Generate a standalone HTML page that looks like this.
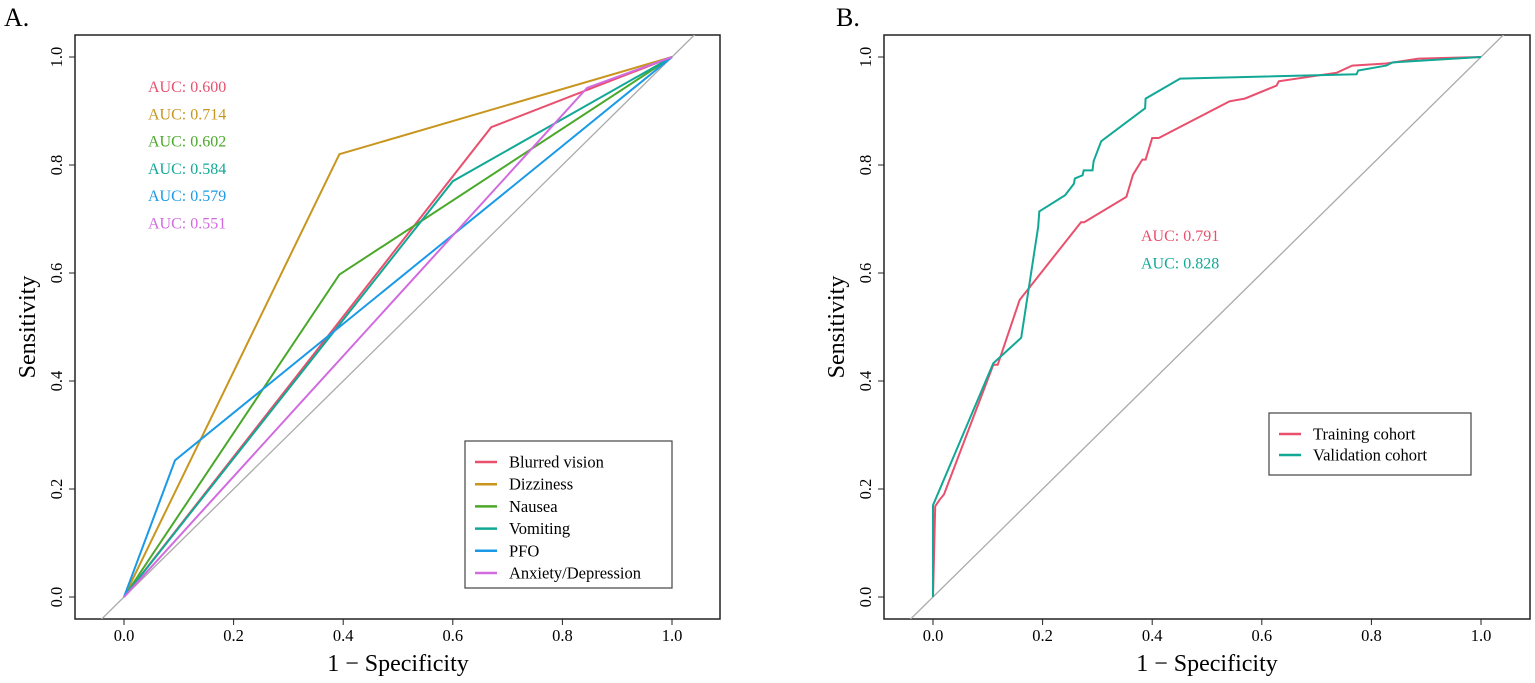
<!DOCTYPE html>
<html><head><meta charset="utf-8"><style>
html,body{margin:0;padding:0;background:#fff}
svg{display:block;font-family:"Liberation Serif",serif}
</style></head><body>
<svg id="svg" width="1535" height="683" viewBox="0 0 1535 683" xmlns="http://www.w3.org/2000/svg">
<text x="4" y="26" font-size="26">A.</text>
<text x="836" y="26" font-size="26">B.</text>
<g id="pa"></g>
<g id="pb"></g>
</svg>
<script>
const ticks = [0, 0.2, 0.4, 0.6, 0.8, 1.0];
const tickLabels = ["0.0", "0.2", "0.4", "0.6", "0.8", "1.0"];
const namesA = ["Blurred vision", "Dizziness", "Nausea", "Vomiting", "PFO", "Anxiety/Depression"];
const aucA = ["AUC: 0.600", "AUC: 0.714", "AUC: 0.602", "AUC: 0.584", "AUC: 0.579", "AUC: 0.551"];
const colorsA = ["#e8506e", "#c8961e", "#4aa82a", "#12a896", "#1a9ae6", "#d26ae0"];
const blurredX = [0, 0.67, 1], blurredY = [0, 0.87, 1];
const dizzX = [0, 0.393, 1], dizzY = [0, 0.82, 1];
const nauseaX = [0, 0.393, 1], nauseaY = [0, 0.597, 1];
const vomitX = [0, 0.6, 1], vomitY = [0, 0.77, 1];
const pfoX = [0, 0.093, 1], pfoY = [0, 0.253, 1];
const anxX = [0, 0.845, 1], anxY = [0, 0.943, 1];
const namesB = ["Training cohort", "Validation cohort"];
const aucB = ["AUC: 0.791", "AUC: 0.828"];
const colorsB = ["#e8506e", "#12a896"];
const trainX = [0,0.004,0.012,0.02,0.11,0.118,0.158,0.27,0.276,0.353,0.365,0.382,0.388,0.4,0.412,0.541,0.569,0.627,0.631,0.737,0.765,0.827,0.886,1];
const trainY = [0,0.168,0.18,0.19,0.43,0.43,0.55,0.694,0.694,0.741,0.782,0.81,0.81,0.85,0.85,0.918,0.923,0.947,0.955,0.971,0.984,0.988,0.997,1];
const validX = [0,0,0.11,0.161,0.192,0.194,0.241,0.257,0.259,0.273,0.275,0.291,0.293,0.307,0.387,0.388,0.451,0.773,0.776,0.827,0.839,1];
const validY = [0,0.17,0.433,0.48,0.686,0.714,0.744,0.765,0.775,0.781,0.79,0.79,0.807,0.844,0.905,0.923,0.96,0.968,0.975,0.984,0.99,1];

const NS = "http://www.w3.org/2000/svg";
function mk(p, tag, attrs) { const e = document.createElementNS(NS, tag); for (const k in attrs) e.setAttribute(k, attrs[k]); p.appendChild(e); return e; }

function panel(g, x0, x1, boxL, boxR, id) {
  const y0 = 597, y1 = 57, boxT = 35, boxB = 619;
  const sx = v => x0 + v * (x1 - x0), sy = v => y0 + v * (y1 - y0);
  const clip = mk(g, "clipPath", {id: "clip" + id});
  mk(clip, "rect", {x: boxL, y: boxT, width: boxR - boxL, height: boxB - boxT});
  const box = mk(g, "rect", {x: boxL, y: boxT, width: boxR - boxL, height: boxB - boxT, fill: "none", stroke: "#222", "stroke-width": 1.5});
  
  
  const diag = mk(g, "line", {x1: sx(-0.1), y1: sy(-0.1), x2: sx(1.1), y2: sy(1.1), stroke: "#aaa", "stroke-width": 1.3, "clip-path": "url(#clip" + id + ")"});
  
  
  ticks.forEach((t, i) => {
    const xt = mk(g, "line", {x1: sx(t), x2: sx(t), y1: boxB, y2: boxB + 6, stroke: "#222"});
    
    
    const xl = mk(g, "text", {x: sx(t), y: 641, "font-size": 16.5, "text-anchor": "middle"});
    xl.textContent = tickLabels[i];
    
    
    const yt = mk(g, "line", {x1: boxL - 6, x2: boxL, y1: sy(t), y2: sy(t), stroke: "#222"});
    
    
    const yl = mk(g, "text", {x: 0, y: 0, "font-size": 16.5, "text-anchor": "middle", transform: `translate(${boxL - 13},${sy(t)}) rotate(-90)`});
    yl.textContent = tickLabels[i];
    
    
  });
  const xt = mk(g, "text", {x: sx(0.5), y: 671, "font-size": 24, "text-anchor": "middle"});
  xt.textContent = "1 \u2212 Specificity";
  
  
  const yt = mk(g, "text", {x: 0, y: 0, "font-size": 24, "text-anchor": "middle", transform: `translate(${boxL - 40},${sy(0.5)}) rotate(-90)`});
  yt.textContent = "Sensitivity";
  
  
  return {sx, sy};
}
function curve(g, s, xs, ys, color, name) {
  const d = xs.map((x, i) => (i ? "L" : "M") + s.sx(x).toFixed(1) + "," + s.sy(ys[i]).toFixed(1)).join("");
  const p = mk(g, "path", {d, fill: "none", stroke: color, "stroke-width": 2});
  
  
}
function legend(g, x, y, w, h, names, colors, dy, fs) {
  const lg = mk(g, "g", {});
  
  
  mk(lg, "rect", {x, y, width: w, height: h, fill: "#fff", stroke: "#444", "stroke-width": 1.2});
  names.forEach((n, i) => {
    const cy = y + 21 + i * dy;
    const e = mk(lg, "g", {});
    
    
    mk(e, "line", {x1: x + 10, x2: x + 32, y1: cy, y2: cy, stroke: colors[i], "stroke-width": 2.5});
    const t = mk(e, "text", {x: x + 44, y: cy + 5.5, "font-size": fs});
    t.textContent = n;
  });
}
const ga = document.getElementById("pa");
const sa = panel(ga, 124, 672, 75, 720, "a");
const seriesA = [[blurredX, blurredY], [dizzX, dizzY], [nauseaX, nauseaY], [vomitX, vomitY], [pfoX, pfoY], [anxX, anxY]];
seriesA.forEach((s, i) => curve(ga, sa, s[0], s[1], colorsA[i], "roc-" + namesA[i].toLowerCase().replace(/[^a-z]+/g, "-")));
aucA.forEach((a, i) => {
  const t = mk(ga, "text", {x: 148, y: 92 + i * 27.3, "font-size": 16, fill: colorsA[i]});
  t.textContent = a;
  
  
});
legend(ga, 465, 441, 207, 147, namesA, colorsA, 22.2, 16.5);

const gb = document.getElementById("pb");
const sb = panel(gb, 933, 1481, 884, 1530, "b");
curve(gb, sb, trainX, trainY, colorsB[0], "roc-training-cohort");
curve(gb, sb, validX, validY, colorsB[1], "roc-validation-cohort");
aucB.forEach((a, i) => {
  const t = mk(gb, "text", {x: 1141, y: 241 + i * 27.5, "font-size": 16, fill: colorsB[i]});
  t.textContent = a;
  
  
});
legend(gb, 1269, 413, 202, 62, namesB, colorsB, 21, 16.5);
</script>
</body></html>
